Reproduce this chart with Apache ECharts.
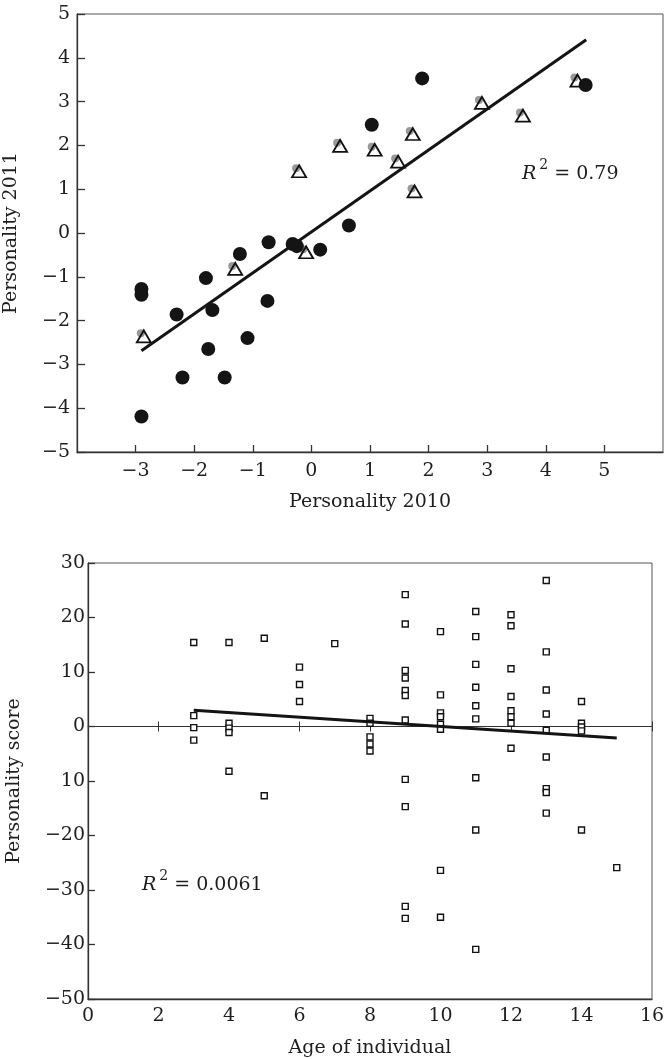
<!DOCTYPE html>
<html>
<head>
<meta charset="utf-8">
<script src="https://cdn.jsdelivr.net/npm/echarts@6/dist/echarts.min.js"></script>
<style>
  html, body { margin: 0; padding: 0; background: #fff; }
  #main { width: 666px; height: 1059px; }
</style>
</head>
<body>
<div id="main"></div>
<script>
// top panel: personality 2010 vs 2011 (filled dots + open triangles)
var dotX = [-2.90, -2.90, -2.90, -2.30, -2.20, -1.80, -1.69, -1.76, -1.48, -1.22, -1.09, -0.73, -0.75, -0.32, -0.25, 0.15, 0.64, 1.03, 1.89, 4.68];
var dotY = [-1.28, -1.41, -4.19, -1.86, -3.30, -1.03, -1.76, -2.65, -3.30, -0.48, -2.40, -0.21, -1.55, -0.25, -0.30, -0.38, 0.17, 2.47, 3.53, 3.38];
var triX = [-2.86, -1.30, -0.09, -0.21, 0.49, 1.08, 1.48, 1.73, 1.76, 2.91, 3.61, 4.54];
var triY = [-2.36, -0.82, -0.44, 1.41, 1.99, 1.90, 1.63, 2.26, 0.95, 2.97, 2.68, 3.48];
var fitTopX = [-2.90, 4.69];
var fitTopY = [-2.69, 4.41];
var r2Top = '0.79';

// bottom panel: age of individual vs personality score
var ages = [3, 3, 3, 3,
  4, 4, 4, 4, 4,
  5, 5,
  6, 6, 6,
  7,
  8, 8, 8, 8, 8,
  9, 9, 9, 9, 9, 9, 9, 9, 9, 9, 9,
  10, 10, 10, 10, 10, 10, 10, 10,
  11, 11, 11, 11, 11, 11, 11, 11, 11,
  12, 12, 12, 12, 12, 12, 12, 12,
  13, 13, 13, 13, 13, 13, 13, 13, 13,
  14, 14, 14, 14, 14,
  15];
var scores = [15.4, 2.0, -0.2, -2.5,
  15.4, 0.6, -0.3, -1.1, -8.2,
  16.2, -12.7,
  10.9, 7.7, 4.6,
  15.2,
  1.5, 0.6, -1.9, -3.2, -4.5,
  24.2, 18.8, 10.3, 8.9, 6.6, 5.7, 1.2, -9.7, -14.7, -33.0, -35.2,
  17.4, 5.8, 2.5, 1.8, 0.4, -0.5, -26.4, -35.0,
  21.1, 16.5, 11.4, 7.2, 3.8, 1.4, -9.4, -19.0, -40.9,
  20.5, 18.5, 10.6, 5.5, 2.9, 1.8, 0.6, -4.0,
  26.8, 13.7, 6.7, 2.3, -0.7, -5.6, -11.4, -12.1, -15.9,
  4.6, 0.6, -0.1, -0.8, -19.0,
  -25.9];
var fitAgeX = [3, 15];
var fitAgeY = [3.0, -2.1];
var r2Bottom = '0.0061';

function zip(xs, ys) {
    return xs.map(function (x, i) { return [x, ys[i]]; });
}

var FONT = 'DejaVu Serif';
var INK = '#1e1e1e';

function minus(v) {
    return v < 0 ? '\u2212' + Math.abs(v) : String(v);
}

var labelStyle = { color: INK, fontFamily: FONT, fontSize: 19 };
var nameStyle = { color: INK, fontFamily: FONT, fontSize: 19 };
var lineStyle = { color: '#333', width: 1.3 };

function r2Text(val) {
    var rich = {
        r: { fontFamily: FONT, fontSize: 19, fontStyle: 'italic', fill: INK, lineHeight: 26, verticalAlign: 'bottom' },
        s: { fontFamily: FONT, fontSize: 14, fill: INK, lineHeight: 26, verticalAlign: 'top', padding: [0, 0, 0, 3] },
        e: { fontFamily: FONT, fontSize: 19, fill: INK, lineHeight: 26, verticalAlign: 'bottom' }
    };
    return { text: '{r|R}{s|2}{e| = ' + val + '}', fill: INK, fontFamily: FONT, fontSize: 19, rich: rich };
}

var chart = echarts.init(document.getElementById('main'), null, { renderer: 'canvas' });

chart.setOption({
    animation: false,
    backgroundColor: '#fff',
    grid: [
        { left: 77, top: 14, right: 3, bottom: 607, show: true, borderColor: '#555', borderWidth: 1, containLabel: false, outerBoundsMode: 'none' },
        { left: 88, top: 563, right: 14, bottom: 60, show: true, borderColor: '#555', borderWidth: 1, containLabel: false, outerBoundsMode: 'none' }
    ],
    xAxis: [
        {   // top panel
            gridIndex: 0, type: 'value', min: -4, max: 6, interval: 1, position: 'bottom',
            name: 'Personality 2010', nameLocation: 'middle', nameGap: 41, nameTextStyle: nameStyle,
            axisLine: { onZero: false, lineStyle: lineStyle },
            axisTick: { inside: true, length: 7, lineStyle: lineStyle },
            axisLabel: Object.assign({ margin: 10, showMinLabel: false, showMaxLabel: false, formatter: minus }, labelStyle),
            splitLine: { show: false }
        },
        {   // bottom panel labels
            gridIndex: 1, type: 'value', min: 0, max: 16, interval: 2, position: 'bottom',
            name: 'Age of individual', nameLocation: 'middle', nameGap: 40, nameTextStyle: nameStyle,
            axisLine: { onZero: false, lineStyle: lineStyle },
            axisTick: { show: false },
            axisLabel: Object.assign({ margin: 8, formatter: minus }, labelStyle),
            splitLine: { show: false }
        },
        {   // zero line with ticks pointing down
            gridIndex: 1, type: 'value', min: 0, max: 16, interval: 2, position: 'bottom',
            axisLine: { onZero: true, onZeroAxisIndex: 1, lineStyle: { color: '#333', width: 1 } },
            axisTick: { inside: false, length: 5, lineStyle: { color: '#333', width: 1 } },
            axisLabel: { show: false },
            splitLine: { show: false }
        },
        {   // zero line ticks pointing up
            gridIndex: 1, type: 'value', min: 0, max: 16, interval: 2, position: 'bottom',
            axisLine: { show: false, onZero: true, onZeroAxisIndex: 1 },
            axisTick: { inside: true, length: 5, lineStyle: { color: '#333', width: 1 } },
            axisLabel: { show: false },
            splitLine: { show: false }
        }
    ],
    yAxis: [
        {
            gridIndex: 0, type: 'value', min: -5, max: 5, interval: 1, position: 'left',
            name: 'Personality 2011', nameLocation: 'middle', nameGap: 56, nameTextStyle: nameStyle,
            axisLine: { onZero: false, lineStyle: lineStyle },
            axisTick: { inside: true, length: 8, lineStyle: lineStyle },
            axisLabel: Object.assign({ margin: 7, formatter: minus }, labelStyle),
            splitLine: { show: false }
        },
        {
            gridIndex: 1, type: 'value', min: -50, max: 30, interval: 10, position: 'left',
            name: 'Personality score', nameLocation: 'middle', nameGap: 64, nameTextStyle: nameStyle,
            axisLine: { onZero: false, lineStyle: lineStyle },
            axisTick: { inside: true, length: 7, lineStyle: lineStyle },
            // the printed figure drops the minus sign on -10
            axisLabel: Object.assign({ margin: 3, formatter: function (v) { return v === -10 ? '10' : minus(v); } }, labelStyle),
            splitLine: { show: false }
        }
    ],
    series: [
        {
            type: 'scatter', xAxisIndex: 0, yAxisIndex: 0, z: 2,
            data: zip(triX, triY), symbol: 'circle', symbolSize: 8, symbolOffset: [-3, -3],
            itemStyle: { color: '#999', opacity: 1 }, silent: true
        },
        {
            type: 'scatter', xAxisIndex: 0, yAxisIndex: 0, z: 3,
            data: zip(triX, triY), symbol: 'triangle', symbolSize: [14, 12],
            itemStyle: { color: 'rgba(255,255,255,0)', borderColor: '#111', borderWidth: 1.8, opacity: 1 }
        },
        {
            type: 'scatter', xAxisIndex: 0, yAxisIndex: 0, z: 3,
            data: zip(dotX, dotY), symbol: 'circle', symbolSize: 14,
            itemStyle: { color: '#141414', opacity: 1 }
        },
        {
            type: 'line', xAxisIndex: 0, yAxisIndex: 0, z: 4,
            data: zip(fitTopX, fitTopY), showSymbol: false, symbol: 'none',
            lineStyle: { color: '#141414', width: 3 }
        },
        {
            type: 'scatter', xAxisIndex: 1, yAxisIndex: 1, z: 3,
            data: zip(ages, scores), symbol: 'rect', symbolSize: 6,
            itemStyle: { color: '#fff', borderColor: '#111', borderWidth: 1.4, opacity: 1 }
        },
        {
            type: 'line', xAxisIndex: 1, yAxisIndex: 1, z: 4,
            data: zip(fitAgeX, fitAgeY), showSymbol: false, symbol: 'none',
            lineStyle: { color: '#141414', width: 3 }
        }
    ],
    graphic: [
        { type: 'text', left: 522, top: 158, z: 10, style: r2Text(r2Top) },
        { type: 'text', left: 142, top: 869, z: 10, style: r2Text(r2Bottom) }
    ]
});

window.onresize = chart.resize;
</script>
</body>
</html>
